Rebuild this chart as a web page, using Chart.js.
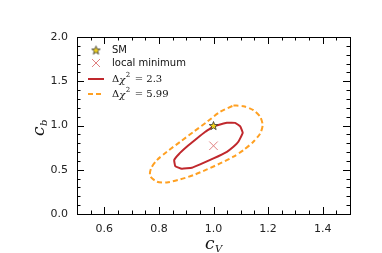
<!DOCTYPE html>
<html>
<head>
<meta charset="utf-8">
<script src="https://cdn.jsdelivr.net/npm/chart.js@4"></script>
<style>
  html, body { margin: 0; padding: 0; background: #fff; }
  #wrap { width: 382px; height: 253px; }
</style>
</head>
<body>
<div id="wrap"><canvas id="c" width="382" height="253"></canvas></div>
<script>
// contour  Δχ² = 2.3
const inner_cV = [1.0, 1.049, 1.079, 1.098, 1.107, 1.091, 1.073, 1.049, 1.0, 0.951, 0.921, 0.884, 0.860, 0.856, 0.872, 0.902, 0.939, 0.970, 1.0];
const inner_cb = [0.992, 1.03, 1.03, 0.99, 0.917, 0.816, 0.759, 0.703, 0.628, 0.56, 0.523, 0.511, 0.541, 0.609, 0.673, 0.759, 0.853, 0.929, 0.992];
// contour  Δχ² = 5.99
const outer_cV = [1.073, 1.110, 1.146, 1.171, 1.180, 1.171, 1.146, 1.110, 1.073, 1.024, 0.976, 0.927, 0.878, 0.829, 0.793, 0.768, 0.771, 0.793, 0.829, 0.878, 0.927, 0.976, 1.024, 1.073];
const outer_cb = [1.226, 1.218, 1.173, 1.098, 1.004, 0.910, 0.816, 0.722, 0.647, 0.571, 0.504, 0.440, 0.391, 0.357, 0.365, 0.429, 0.515, 0.609, 0.703, 0.816, 0.929, 1.041, 1.154, 1.226];
const smPoint = [1.0, 1.0];
const localMin = [1.0, 0.771];

const xLabels = [0.6, 0.8, 1.0, 1.2, 1.4];
const yLabels = [0.0, 0.5, 1.0, 1.5, 2.0];

function toPts(xs, ys) {
  return xs.map((x, i) => ({x: x, y: ys[i]}));
}

// filled star like matplotlib '*'
function starImage(r) {
  const s = Math.ceil(r * 2 + 4);
  const cv = document.createElement('canvas');
  cv.width = s; cv.height = s;
  const g = cv.getContext('2d');
  g.translate(s / 2, s / 2 + 0.5);
  g.beginPath();
  for (let i = 0; i < 10; i++) {
    const rr = i % 2 === 0 ? r : r * 0.42;
    const a = -Math.PI / 2 + i * Math.PI / 5;
    const px = rr * Math.cos(a), py = rr * Math.sin(a);
    if (i === 0) g.moveTo(px, py); else g.lineTo(px, py);
  }
  g.closePath();
  g.fillStyle = '#f2d21a';
  g.fill();
  g.lineWidth = 0.8;
  g.strokeStyle = '#333';
  g.stroke();
  return cv;
}
const star = starImage(4.5);

const RED = '#c0282d';
const ORANGE = '#ffa022';
const MINCOL = '#e08080';

function isMult(v, step) {
  const q = v / step;
  return Math.abs(q - Math.round(q)) < 1e-6;
}

const frame = {
  id: 'frame',
  afterDatasetsDraw(chart) {
    const ctx = chart.ctx;
    const a = chart.chartArea;
    const xs = chart.scales.x, ys = chart.scales.y;
    ctx.save();
    ctx.strokeStyle = '#000';
    ctx.lineWidth = 1;
    ctx.strokeRect(Math.round(a.left) + 0.5, Math.round(a.top) + 0.5, Math.round(a.right - a.left), Math.round(a.bottom - a.top));
    ctx.beginPath();
    for (let v = 0.5; v <= 1.5001; v += 0.05) {
      const vv = Math.round(v * 100) / 100;
      const len = isMult(vv, 0.2) ? 7 : 3.5;
      const px = Math.round(xs.getPixelForValue(vv)) + 0.5;
      ctx.moveTo(px, a.bottom); ctx.lineTo(px, a.bottom - len);
      ctx.moveTo(px, a.top); ctx.lineTo(px, a.top + len);
    }
    for (let v = 0; v <= 2.0001; v += 0.1) {
      const vv = Math.round(v * 10) / 10;
      const len = isMult(vv, 0.5) ? 7 : 3.5;
      const py = Math.round(ys.getPixelForValue(vv)) + 0.5;
      ctx.moveTo(a.left, py); ctx.lineTo(a.left + len, py);
      ctx.moveTo(a.right, py); ctx.lineTo(a.right - len, py);
    }
    ctx.stroke();

    // legend
    const lx = 88, tx = 112;
    ctx.drawImage(star, 96 - star.width / 2, 50 - star.height / 2);
    ctx.strokeStyle = MINCOL;
    ctx.lineWidth = 1;
    ctx.beginPath();
    ctx.moveTo(92, 59); ctx.lineTo(100, 67);
    ctx.moveTo(100, 59); ctx.lineTo(92, 67);
    ctx.stroke();
    ctx.lineWidth = 2;
    ctx.strokeStyle = RED;
    ctx.beginPath(); ctx.moveTo(lx, 79); ctx.lineTo(lx + 16, 79); ctx.stroke();
    ctx.strokeStyle = ORANGE;
    ctx.setLineDash([5, 3]);
    ctx.beginPath(); ctx.moveTo(lx, 94); ctx.lineTo(lx + 16, 94); ctx.stroke();
    ctx.setLineDash([]);

    ctx.fillStyle = '#111';
    ctx.textBaseline = 'middle';
    ctx.font = '10px "DejaVu Sans"';
    ctx.fillText('SM', tx, 50);
    ctx.fillText('local minimum', tx, 63);
    function chiLabel(y, val) {
      let x = tx;
      ctx.font = '10px "DejaVu Serif"';
      ctx.fillText('Δ', x, y); x += ctx.measureText('Δ').width;
      ctx.font = 'italic 10px "DejaVu Serif"';
      ctx.fillText('χ', x, y + 1); x += ctx.measureText('χ').width;
      ctx.font = '7px "DejaVu Serif"';
      ctx.fillText('2', x + 0.5, y - 4); x += ctx.measureText('2').width + 5;
      ctx.font = '10px "DejaVu Serif"';
      ctx.fillText('= ' + val, x, y);
    }
    chiLabel(79, '2.3');
    chiLabel(94, '5.99');

    // axis titles
    ctx.font = 'italic 17px "DejaVu Serif"';
    ctx.textBaseline = 'alphabetic';
    ctx.fillText('c', 205, 249);
    ctx.font = 'italic 10px "DejaVu Serif"';
    ctx.fillText('V', 215, 252);
    ctx.save();
    ctx.translate(44, 128);
    ctx.rotate(-Math.PI / 2);
    ctx.font = 'italic 17px "DejaVu Serif"';
    ctx.fillText('c', -8, 0);
    ctx.font = 'italic 10px "DejaVu Serif"';
    ctx.fillText('b', 2, 3);
    ctx.restore();
    ctx.restore();
  }
};

new Chart(document.getElementById('c'), {
  type: 'scatter',
  data: {
    datasets: [
      {
        label: 'outer',
        data: toPts(outer_cV, outer_cb),
        showLine: true,
        borderColor: ORANGE,
        borderWidth: 2,
        borderDash: [5, 3],
        pointRadius: 0,
        tension: 0.25,
        order: 3
      },
      {
        label: 'inner',
        data: toPts(inner_cV, inner_cb),
        showLine: true,
        borderColor: RED,
        borderWidth: 2,
        pointRadius: 0,
        tension: 0.1,
        order: 2
      },
      {
        label: 'local minimum',
        data: [{x: localMin[0], y: localMin[1]}],
        pointStyle: 'crossRot',
        pointRadius: 6,
        borderColor: MINCOL,
        borderWidth: 1,
        order: 1
      },
      {
        label: 'SM',
        data: [{x: smPoint[0], y: smPoint[1]}],
        pointStyle: star,
        order: 0
      }
    ]
  },
  options: {
    responsive: false,
    animation: false,
    layout: { padding: { top: 37, right: 32, left: 0, bottom: 0 } },
    plugins: { legend: { display: false }, tooltip: { enabled: false } },
    scales: {
      x: {
        type: 'linear', min: 0.5, max: 1.5,
        afterFit(s) { s.height = 39; },
        afterBuildTicks(s) { s.ticks = xLabels.map(v => ({value: v})); },
        grid: { display: false, drawTicks: false },
        border: { display: false },
        ticks: {
          padding: 9,
          color: '#222',
          font: { family: 'DejaVu Sans', size: 11 },
          autoSkip: false,
          maxRotation: 0,
          callback: v => v.toFixed(1)
        }
      },
      y: {
        type: 'linear', min: 0, max: 2,
        afterFit(s) { s.width = 77; },
        afterBuildTicks(s) { s.ticks = yLabels.map(v => ({value: v})); },
        grid: { display: false, drawTicks: false },
        border: { display: false },
        ticks: {
          padding: 9,
          color: '#222',
          font: { family: 'DejaVu Sans', size: 11 },
          callback: v => v.toFixed(1)
        }
      }
    }
  },
  plugins: [frame]
});
</script>
</body>
</html>
